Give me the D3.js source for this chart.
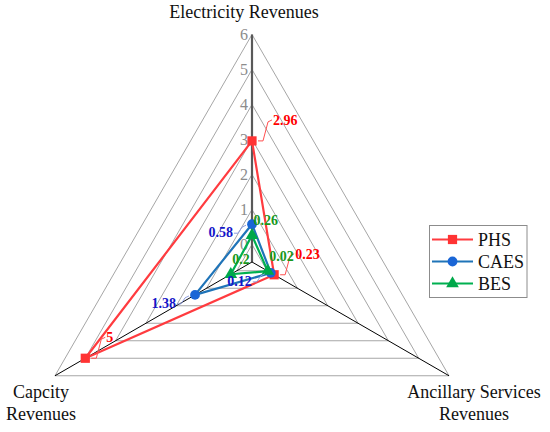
<!DOCTYPE html>
<html><head><meta charset="utf-8">
<script src="https://cdn.jsdelivr.net/npm/d3@7"></script>
<style>
html,body{margin:0;padding:0;background:#fff;}
svg{display:block;font-family:"Liberation Serif","Times New Roman",serif;}
</style></head>
<body>
<svg id="chart" width="550" height="432"></svg>
<script>
// ---- data ----
const categories = ["Electricity Revenues", "Ancillary Services Revenues", "Capcity Revenues"];
const seriesNames = ["PHS", "CAES", "BES"];
const phsValues  = [2.96, 0.23, 5];
const caesValues = [0.58, 0.12, 1.38];
const besValues  = [0.26, 0.02, 0.2];
const tickValues = [0, 1, 2, 3, 4, 5, 6];
const tickLabels = ["0", "1", "2", "3", "4", "5", "6"];
const labelText = {
  PHS:  ["2.96", "0.23", "5"],
  CAES: ["0.58", "0.12", "1.38"],
  BES:  ["0.26", "0.02", "0.2"]
};

// ---- layout / styles ----
const cx = 252, cy = 262;
const r = d3.scaleLinear().domain([-0.5, 6]).range([0, 227.5]);
const ang = d3.scaleLinear().domain([0, categories.length]).range([-Math.PI / 2, 1.5 * Math.PI]);
function pt(i, v) { const a = ang(i), rr = r(v); return [cx + rr * Math.cos(a), cy + rr * Math.sin(a)]; }

const styles = {
  PHS:  {line: "#FF3B3F", marker: "#FF3333", label: "#FF0000", leader: "#FF5050", shape: d3.symbolSquare, size: 85},
  CAES: {line: "#1F74B8", marker: "#1A66D6", label: "#1515C8", leader: "#8F9FE0", shape: d3.symbolCircle, size: 75},
  BES:  {line: "#00B050", marker: "#00A84A", label: "#18981C", leader: null, shape: d3.symbolTriangle, size: 70}
};
const labelLayout = {
  PHS:  {anchor: "start", dx: 21, dy: -16, leader: [[6,0],[11,0],[16,-19],[20,-21]]},
  CAES: {anchor: "end", dx: -19, dy: 13, leader: [[-18,9],[-14,9],[-10,3],[-6,1]]},
  BES:  {anchor: "start", dx: 1.5, dy: -10, leader: null}
};

const svg = d3.select("#chart");
const series = [
  {name: "PHS", values: phsValues},
  {name: "CAES", values: caesValues},
  {name: "BES", values: besValues}
];

// gridlines
const grid = svg.append("g");
tickValues.forEach(t => {
  const pts = categories.map((c, i) => pt(i, t));
  grid.append("polygon").attr("points", pts.map(p => p.join(",")).join(" "))
    .attr("fill", "none").attr("stroke", "#A6A6A6").attr("stroke-width", 1);
});

// spokes
categories.forEach((c, i) => {
  const p = pt(i, 6);
  svg.append("line").attr("x1", cx).attr("y1", cy).attr("x2", p[0]).attr("y2", p[1])
    .attr("stroke", i === 0 ? "#595959" : "#000").attr("stroke-width", i === 0 ? 2.2 : 1);
});

// tick labels
tickValues.forEach((t, k) => {
  const p = pt(0, t);
  svg.append("text").attr("x", p[0] - 4).attr("y", p[1]).attr("dy", "0.35em")
    .attr("text-anchor", "end").attr("font-size", 16).attr("fill", "#8C8C8C").text(tickLabels[k]);
});

// category labels
const catPos = [
  {x: 244, lines: [18]},
  {x: 474, lines: [398, 420]},
  {x: 41, lines: [398, 420]}
];
const catLines = [["Electricity Revenues"], ["Ancillary Services", "Revenues"], ["Capcity", "Revenues"]];
categories.forEach((c, i) => {
  catLines[i].forEach((ln, j) => {
    svg.append("text").attr("x", catPos[i].x).attr("y", catPos[i].lines[j])
      .attr("text-anchor", "middle").attr("font-size", 18).attr("fill", "#111").text(ln);
  });
});

// series
const lineGen = d3.line().curve(d3.curveLinearClosed);
series.forEach(s => {
  const st = styles[s.name];
  const pts = s.values.map((v, i) => pt(i, v));
  svg.append("path").attr("d", lineGen(pts)).attr("fill", "none")
    .attr("stroke", st.line).attr("stroke-width", 2.2).attr("stroke-linejoin", "round");
  pts.forEach(p => {
    svg.append("path").attr("d", d3.symbol().type(st.shape).size(st.size)())
      .attr("transform", `translate(${p[0]},${p[1]})`).attr("fill", st.marker);
  });
});

// data labels
series.forEach(s => {
  const st = styles[s.name], lay = labelLayout[s.name];
  s.values.forEach((v, i) => {
    const p = pt(i, v);
    if (lay.leader) {
      svg.append("polyline").attr("points", lay.leader.map(o => [p[0] + o[0], p[1] + o[1]].join(",")).join(" "))
        .attr("fill", "none").attr("stroke", st.leader).attr("stroke-width", 1);
    }
    svg.append("text").attr("x", p[0] + lay.dx).attr("y", p[1] + lay.dy)
      .attr("text-anchor", lay.anchor).attr("font-size", 14).attr("font-weight", "bold")
      .attr("fill", st.label).text(labelText[s.name][i]);
  });
});

// legend
const lg = svg.append("g");
lg.append("rect").attr("x", 429.5).attr("y", 225.5).attr("width", 97.5).attr("height", 72)
  .attr("fill", "#fff").attr("stroke", "#8C8C8C").attr("stroke-width", 1);
const ly = d3.scalePoint().domain(seriesNames).range([239.5, 283.5]);
seriesNames.forEach(n => {
  const st = styles[n], y = ly(n);
  lg.append("line").attr("x1", 432).attr("x2", 473).attr("y1", y).attr("y2", y)
    .attr("stroke", st.line).attr("stroke-width", 2.2);
  lg.append("path").attr("d", d3.symbol().type(st.shape).size(st.size)())
    .attr("transform", `translate(452.5,${y})`).attr("fill", st.marker);
  lg.append("text").attr("x", 478).attr("y", y).attr("dy", "0.35em")
    .attr("font-size", 18).attr("fill", "#111").text(n);
});
</script>
</body></html>
